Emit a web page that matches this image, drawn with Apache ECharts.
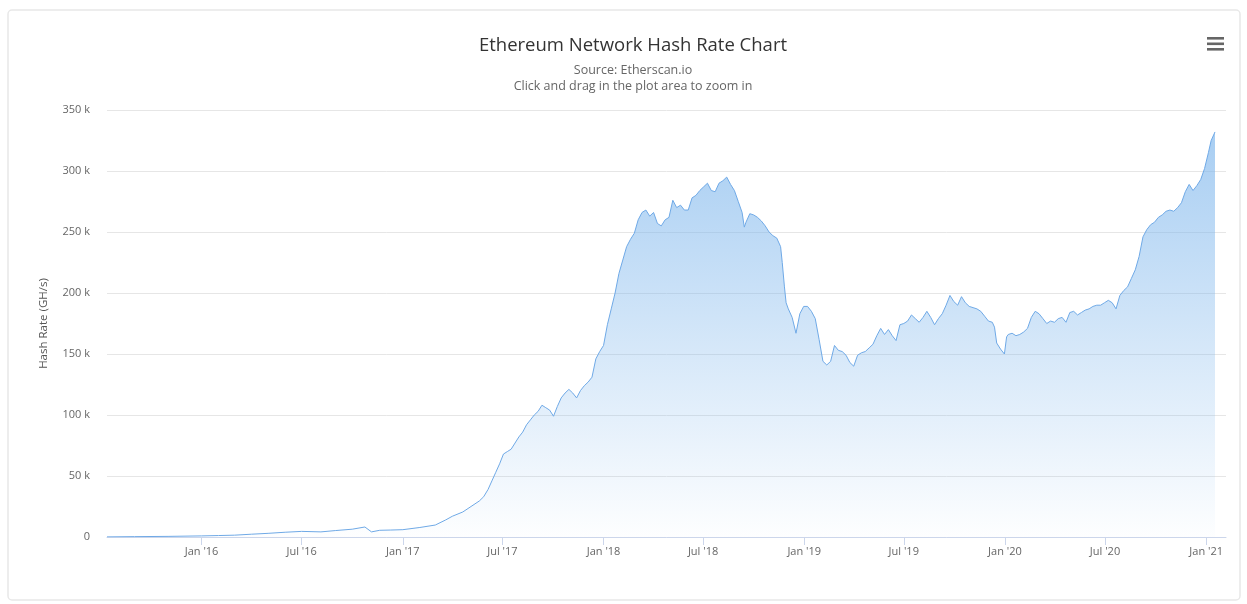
<!DOCTYPE html>
<html>
<head>
<meta charset="utf-8">
<script src="https://cdn.jsdelivr.net/npm/echarts@6/dist/echarts.min.js"></script>
<style>
html,body{margin:0;padding:0;background:#fff;}
#chart{width:1247px;height:604px;}
</style>
</head>
<body>
<div id="chart"></div>
<script>
const dates = [
'2015-07-13','2015-09-01','2015-11-01','2016-01-01','2016-02-01','2016-03-01','2016-04-01','2016-05-01','2016-06-01','2016-07-01',
'2016-08-05','2016-09-01','2016-10-01','2016-10-24','2016-11-05','2016-11-20','2016-12-10','2017-01-01','2017-02-01','2017-03-01',
'2017-03-20','2017-04-01','2017-04-20','2017-05-05','2017-05-20','2017-05-28','2017-06-05','2017-06-12','2017-06-19','2017-06-26',
'2017-07-03','2017-07-10','2017-07-17','2017-07-24','2017-07-31','2017-08-07','2017-08-14','2017-08-21','2017-08-28','2017-09-04',
'2017-09-11','2017-09-18','2017-09-25','2017-10-02','2017-10-09','2017-10-16','2017-10-23','2017-10-30','2017-11-06','2017-11-13',
'2017-11-20','2017-11-27','2017-12-04','2017-12-11','2017-12-18','2017-12-25','2018-01-01','2018-01-08','2018-01-15','2018-01-22',
'2018-01-29','2018-02-05','2018-02-12','2018-02-19','2018-02-26','2018-03-05','2018-03-12','2018-03-19','2018-03-26','2018-04-02',
'2018-04-09','2018-04-16','2018-04-23','2018-04-30','2018-05-07','2018-05-14','2018-05-21','2018-05-28','2018-06-04','2018-06-11',
'2018-06-18','2018-06-25','2018-07-02','2018-07-09','2018-07-16','2018-07-23','2018-07-30','2018-08-06','2018-08-13','2018-08-20',
'2018-08-27','2018-09-03','2018-09-10','2018-09-14','2018-09-17','2018-09-24','2018-10-01','2018-10-08','2018-10-15','2018-10-22',
'2018-10-29','2018-11-05','2018-11-12','2018-11-19','2018-11-22','2018-11-26','2018-11-29','2018-12-03','2018-12-10','2018-12-17',
'2018-12-24','2018-12-31','2019-01-07','2019-01-14','2019-01-21','2019-01-28','2019-02-04','2019-02-11','2019-02-18','2019-02-25',
'2019-03-04','2019-03-11','2019-03-18','2019-03-25','2019-04-01','2019-04-08','2019-04-15','2019-04-22','2019-04-29','2019-05-06',
'2019-05-13','2019-05-20','2019-05-27','2019-06-03','2019-06-10','2019-06-17','2019-06-24','2019-07-01','2019-07-08','2019-07-15',
'2019-07-22','2019-07-29','2019-08-05','2019-08-12','2019-08-19','2019-08-26','2019-09-02','2019-09-09','2019-09-16','2019-09-23',
'2019-09-30','2019-10-07','2019-10-14','2019-10-21','2019-10-28','2019-11-04','2019-11-11','2019-11-18','2019-11-25','2019-12-02',
'2019-12-09','2019-12-13','2019-12-17','2019-12-24','2019-12-31','2020-01-04','2020-01-07','2020-01-14','2020-01-21','2020-01-28',
'2020-02-04','2020-02-11','2020-02-18','2020-02-25','2020-03-03','2020-03-10','2020-03-17','2020-03-24','2020-03-31','2020-04-07',
'2020-04-14','2020-04-21','2020-04-28','2020-05-05','2020-05-12','2020-05-19','2020-05-26','2020-06-02','2020-06-09','2020-06-16',
'2020-06-23','2020-06-30','2020-07-07','2020-07-14','2020-07-21','2020-07-28','2020-08-04','2020-08-11','2020-08-18','2020-08-25',
'2020-09-01','2020-09-08','2020-09-15','2020-09-22','2020-09-29','2020-10-06','2020-10-13','2020-10-20','2020-10-27','2020-11-03',
'2020-11-10','2020-11-17','2020-11-24','2020-12-01','2020-12-08','2020-12-15','2020-12-22','2020-12-29','2021-01-05','2021-01-10',
'2021-01-17'
];
const hashRateK = [
0.1,0.3,0.5,0.9,1.2,1.5,2.3,3.0,3.9,4.6,
4.2,5.3,6.4,8.2,4.2,5.5,5.7,6.0,7.8,9.8,
14,17,20.5,25,29.5,33,39,46,53,60,
68,70,72,77,82,86,92,96,100,103,
108,106,104,99,107,114,118,121,118,114,
120,124,127,131,146,152,157,174,187,200,
216,227,238,244,249,260,266,268,263,266,
257,255,260,262,276,270,272,268,268,278,
280,284,287,290,284,283,290,292,295,289,
284,275,266,254,258,265,264,262,259,255,
250,247,245,238,225,205,192,187,180,167,
183,189,189,185,179,162,144,141,144,157,
153,152,149,143,140,149,151,152,155,158,
165,171,166,170,165,161,174,175,177,182,
179,176,180,185,180,174,179,183,190,198,
193,190,197,192,189,188,187,185,181,177,
176,172,159,154,150,164,166,167,165,166,
168,171,180,185,183,179,175,177,176,179,
180,176,184,185,182,184,186,187,189,190,
190,192,194,192,187,198,202,205,212,219,
230,246,252,256,258,262,264,267,268,267,
270,274,283,289,284,288,293,302,315,325,
332
];
const tickDates = ['2016-01-01','2016-07-01','2017-01-01','2017-07-01','2018-01-01','2018-07-01','2019-01-01','2019-07-01','2020-01-01','2020-07-01','2021-01-01'];
const tickLabels = ["Jan '16","Jul '16","Jan '17","Jul '17","Jan '18","Jul '18","Jan '19","Jul '19","Jan '20","Jul '20","Jan '21"];

const ts = s => +new Date(s + 'T00:00:00');
const seriesData = dates.map((d, i) => [ts(d), hashRateK[i]]);
const tickTs = tickDates.map(ts);
const labelMap = {};
tickTs.forEach((t, i) => { labelMap[t] = tickLabels[i]; });

const chart = echarts.init(document.getElementById('chart'));
const font = "'Open Sans', 'DejaVu Sans', sans-serif";
chart.setOption({
  animation: false,
  backgroundColor: '#fff',
  textStyle: { fontFamily: font },
  title: {
    text: 'Ethereum Network Hash Rate Chart',
    subtext: 'Source: Etherscan.io\nClick and drag in the plot area to zoom in',
    left: 628, textAlign: 'center', top: 31,
    itemGap: 7,
    textStyle: { fontSize: 18.5, fontWeight: 'normal', color: '#333', fontFamily: font },
    subtextStyle: { fontSize: 12.5, color: '#666', lineHeight: 16, fontFamily: font }
  },
  graphic: [
    { type: 'rect', shape: { x: 8, y: 10, width: 1232, height: 590, r: 4 }, style: { fill: 'none', stroke: '#e8e8e8', lineWidth: 1.5 }, z: -1 },
    { type: 'rect', shape: { x: 1207, y: 37, width: 17, height: 2.6 }, style: { fill: '#666' } },
    { type: 'rect', shape: { x: 1207, y: 42.5, width: 17, height: 2.6 }, style: { fill: '#666' } },
    { type: 'rect', shape: { x: 1207, y: 48, width: 17, height: 2.6 }, style: { fill: '#666' } }
  ],
  grid: { left: 107, right: 21, top: 110, bottom: 67, containLabel: false },
  xAxis: {
    type: 'value',
    min: ts('2015-07-13'),
    max: ts('2021-02-06'),
    axisLine: { show: true, onZero: false, lineStyle: { color: '#ccd6eb', width: 1 } },
    axisTick: { show: true, length: 8, customValues: tickTs, lineStyle: { color: '#ccd6eb' } },
    axisLabel: {
      customValues: tickTs,
      formatter: v => labelMap[v] || '',
      color: '#666', fontSize: 11, margin: 9, fontFamily: font
    },
    splitLine: { show: false }
  },
  yAxis: {
    type: 'value',
    min: 0, max: 350, interval: 50,
    name: 'Hash Rate (GH/s)',
    nameLocation: 'middle',
    nameGap: 57,
    nameTextStyle: { color: '#555', fontSize: 11.5, fontFamily: font },
    axisLine: { show: false },
    axisTick: { show: false },
    axisLabel: { formatter: v => v === 0 ? '0' : v + ' k', color: '#666', fontSize: 11, margin: 17, fontFamily: font },
    splitLine: { lineStyle: { color: '#e6e6e6', width: 1 } }
  },
  series: [{
    type: 'line',
    data: seriesData,
    showSymbol: false,
    symbol: 'none',
    lineStyle: { color: '#6fa9e6', width: 1 },
    itemStyle: { color: '#7cb5ec' },
    areaStyle: {
      color: new echarts.graphic.LinearGradient(0, 0, 0, 1, [
        { offset: 0, color: 'rgba(124,181,236,0.95)' },
        { offset: 1, color: 'rgba(124,181,236,0.02)' }
      ])
    }
  }]
});
</script>
</body>
</html>
